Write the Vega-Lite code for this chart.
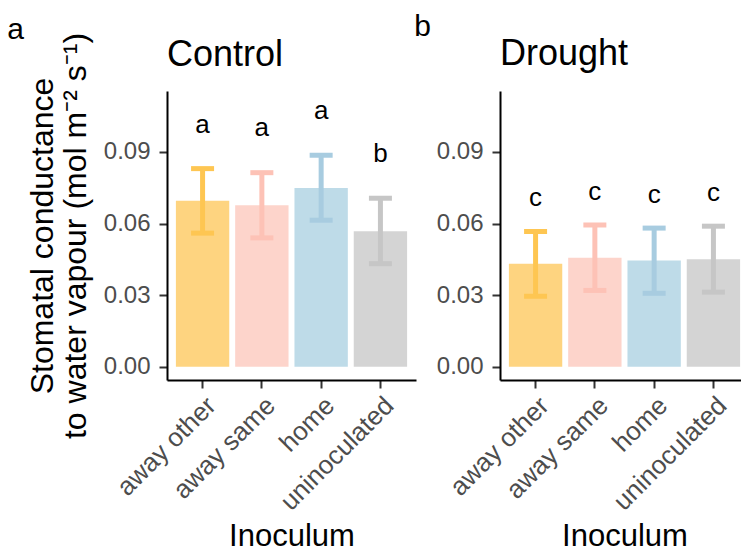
{
  "$schema": "https://vega.github.io/schema/vega-lite/v6.json",
  "padding": {"left": 7, "top": 12, "right": 0, "bottom": 0},
  "background": "white",
  "config": {
    "font": "Liberation Sans",
    "view": {"stroke": null},
    "axis": {
      "domainColor": "black", "domainWidth": 2,
      "tickColor": "#333333", "tickWidth": 2, "tickSize": 8,
      "labelColor": "#4D4D4D", "labelFontSize": 24, "labelFont": "Liberation Sans",
      "titleFontSize": 31, "titleColor": "black", "titleFontWeight": "normal", "titleFont": "Liberation Sans",
      "grid": false
    },
    "title": {"fontWeight": "normal", "color": "black", "anchor": "start", "font": "Liberation Sans"},
    "concat": {"spacing": -2}
  },
  "data": {"values": [
    {"panel": "Control", "inoc": "away other", "mean": 0.0695, "lo": 0.056, "hi": 0.083, "letter": "a", "ly": 0.0979},
    {"panel": "Control", "inoc": "away same", "mean": 0.0677, "lo": 0.054, "hi": 0.0813, "letter": "a", "ly": 0.0965},
    {"panel": "Control", "inoc": "home", "mean": 0.0749, "lo": 0.0614, "hi": 0.0886, "letter": "a", "ly": 0.1039},
    {"panel": "Control", "inoc": "uninoculated", "mean": 0.0568, "lo": 0.0432, "hi": 0.0706, "letter": "b", "ly": 0.0857},
    {"panel": "Drought", "inoc": "away other", "mean": 0.0432, "lo": 0.0296, "hi": 0.0567, "letter": "c", "ly": 0.0672},
    {"panel": "Drought", "inoc": "away same", "mean": 0.0457, "lo": 0.032, "hi": 0.0594, "letter": "c", "ly": 0.0697},
    {"panel": "Drought", "inoc": "home", "mean": 0.0445, "lo": 0.0308, "hi": 0.0581, "letter": "c", "ly": 0.0686},
    {"panel": "Drought", "inoc": "uninoculated", "mean": 0.0451, "lo": 0.0313, "hi": 0.0589, "letter": "c", "ly": 0.0693}
  ]},
  "hconcat": [
    {
      "title": {"text": "a", "fontSize": 30, "frame": "bounds", "dx": -19, "offset": -13},
      "vconcat": [
        {
          "title": {"text": "Control", "fontSize": 36, "frame": "group", "offset": -42},
          "width": 249, "height": 289,
          "transform": [{"filter": "datum.panel === 'Control'"}],
          "encoding": {
            "x": {"field": "inoc", "type": "nominal", "sort": ["away other", "away same", "home", "uninoculated"],
                  "scale": {"paddingInner": 0.1, "paddingOuter": 0.15},
                  "axis": {"title": "Inoculum", "labelAngle": -45, "labelAlign": "right", "labelBaseline": "top", "labelPadding": 4, "labelFontSize": 26, "titlePadding": 7}}
          },
          "layer": [
            {"mark": {"type": "bar"},
             "encoding": {
               "y": {"field": "mean", "type": "quantitative",
                     "scale": {"domain": [-0.0055, 0.1155], "nice": false, "zero": false},
                     "axis": {"title": ["Stomatal conductance", "to water vapour (mol m⁻² s⁻¹)"], "titleFontSize": 32, "titleAlign": "center", "titleAnchor": "middle", "values": [0, 0.03, 0.06, 0.09], "format": ".2f", "labelPadding": 9, "titlePadding": 11, "titleLineHeight": 33}},
               "y2": {"datum": 0},
               "fill": {"field": "inoc", "type": "nominal", "legend": null,
                        "scale": {"domain": ["away other", "away same", "home", "uninoculated"], "range": ["#FED480", "#FDD4CB", "#BEDBE8", "#D4D4D4"]}}
             }},
            {"mark": {"type": "rule", "strokeWidth": 5},
             "encoding": {
               "y": {"field": "lo", "type": "quantitative"},
               "y2": {"field": "hi"},
               "stroke": {"field": "inoc", "type": "nominal", "legend": null,
                          "scale": {"domain": ["away other", "away same", "home", "uninoculated"], "range": ["#FEC652", "#FDC2B6", "#A8CCE0", "#C6C6C6"]}}
             }},
            {"mark": {"type": "tick", "thickness": 5, "size": 23, "opacity": 1},
             "encoding": {
               "y": {"field": "lo", "type": "quantitative"},
               "color": {"field": "inoc", "type": "nominal", "legend": null,
                          "scale": {"domain": ["away other", "away same", "home", "uninoculated"], "range": ["#FEC652", "#FDC2B6", "#A8CCE0", "#C6C6C6"]}}
             }},
            {"mark": {"type": "tick", "thickness": 5, "size": 23, "opacity": 1},
             "encoding": {
               "y": {"field": "hi", "type": "quantitative"},
               "color": {"field": "inoc", "type": "nominal", "legend": null}
             }},
            {"mark": {"type": "text", "fontSize": 26, "baseline": "alphabetic", "color": "black"},
             "encoding": {
               "y": {"field": "ly", "type": "quantitative"},
               "text": {"field": "letter"}
             }}
          ]
        }
      ]
    },
    {
      "title": {"text": "b", "fontSize": 30, "frame": "bounds", "dx": -22, "offset": -6},
      "vconcat": [
        {
          "title": {"text": "Drought", "fontSize": 36, "frame": "group", "offset": 18},
          "width": 249, "height": 289,
          "transform": [{"filter": "datum.panel === 'Drought'"}],
          "encoding": {
            "x": {"field": "inoc", "type": "nominal", "sort": ["away other", "away same", "home", "uninoculated"],
                  "scale": {"paddingInner": 0.1, "paddingOuter": 0.15},
                  "axis": {"title": "Inoculum", "labelAngle": -45, "labelAlign": "right", "labelBaseline": "top", "labelPadding": 4, "labelFontSize": 26, "titlePadding": 7}}
          },
          "layer": [
            {"mark": {"type": "bar"},
             "encoding": {
               "y": {"field": "mean", "type": "quantitative",
                     "scale": {"domain": [-0.0055, 0.1155], "nice": false, "zero": false},
                     "axis": {"title": null, "values": [0, 0.03, 0.06, 0.09], "format": ".2f", "labelPadding": 9}},
               "y2": {"datum": 0},
               "fill": {"field": "inoc", "type": "nominal", "legend": null,
                        "scale": {"domain": ["away other", "away same", "home", "uninoculated"], "range": ["#FED480", "#FDD4CB", "#BEDBE8", "#D4D4D4"]}}
             }},
            {"mark": {"type": "rule", "strokeWidth": 5},
             "encoding": {
               "y": {"field": "lo", "type": "quantitative"},
               "y2": {"field": "hi"},
               "stroke": {"field": "inoc", "type": "nominal", "legend": null,
                          "scale": {"domain": ["away other", "away same", "home", "uninoculated"], "range": ["#FEC652", "#FDC2B6", "#A8CCE0", "#C6C6C6"]}}
             }},
            {"mark": {"type": "tick", "thickness": 5, "size": 23, "opacity": 1},
             "encoding": {
               "y": {"field": "lo", "type": "quantitative"},
               "color": {"field": "inoc", "type": "nominal", "legend": null,
                          "scale": {"domain": ["away other", "away same", "home", "uninoculated"], "range": ["#FEC652", "#FDC2B6", "#A8CCE0", "#C6C6C6"]}}
             }},
            {"mark": {"type": "tick", "thickness": 5, "size": 23, "opacity": 1},
             "encoding": {
               "y": {"field": "hi", "type": "quantitative"},
               "color": {"field": "inoc", "type": "nominal", "legend": null}
             }},
            {"mark": {"type": "text", "fontSize": 26, "baseline": "alphabetic", "color": "black"},
             "encoding": {
               "y": {"field": "ly", "type": "quantitative"},
               "text": {"field": "letter"}
             }}
          ]
        }
      ]
    }
  ]
}
